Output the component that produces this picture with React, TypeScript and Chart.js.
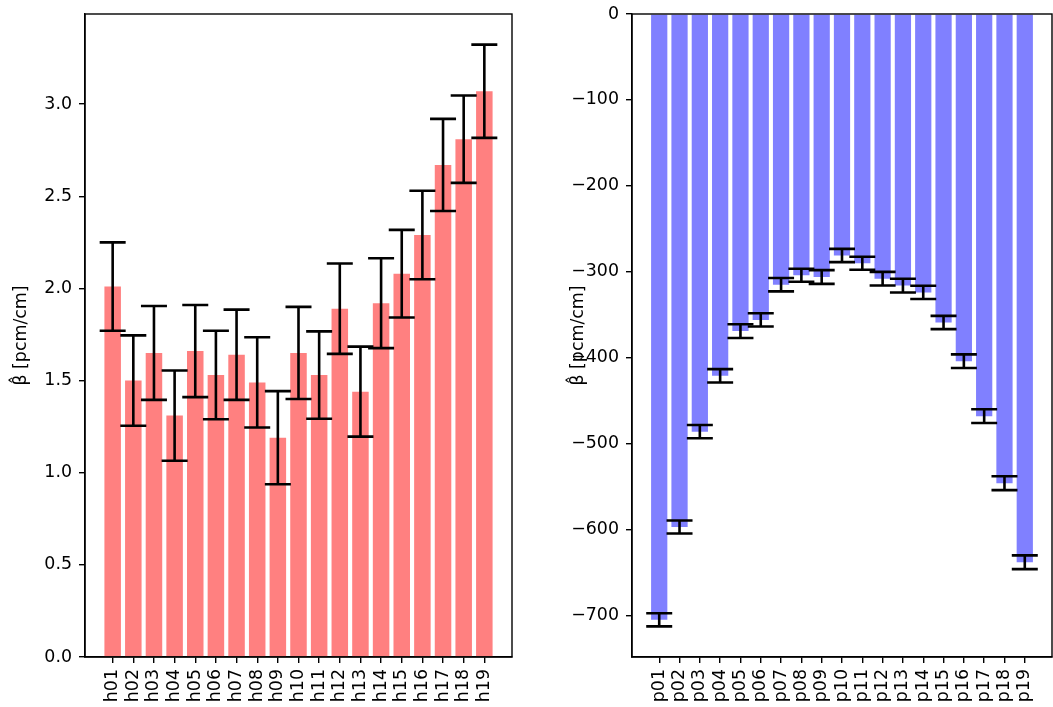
import React, { useEffect, useRef } from "react";
import { Chart, registerables } from "chart.js";

Chart.register(...registerables);

const leftCategories = ["h01","h02","h03","h04","h05","h06","h07","h08","h09","h10","h11","h12","h13","h14","h15","h16","h17","h18","h19"];
const leftValues = [2.01, 1.50, 1.65, 1.31, 1.66, 1.53, 1.64, 1.49, 1.19, 1.65, 1.53, 1.89, 1.44, 1.92, 2.08, 2.29, 2.67, 2.81, 3.07];
const leftErrors = [0.24, 0.245, 0.255, 0.245, 0.25, 0.24, 0.245, 0.245, 0.253, 0.25, 0.237, 0.245, 0.244, 0.244, 0.238, 0.24, 0.25, 0.237, 0.253];
const leftTicks = [0, 0.5, 1.0, 1.5, 2.0, 2.5, 3.0];

const rightCategories = ["p01","p02","p03","p04","p05","p06","p07","p08","p09","p10","p11","p12","p13","p14","p15","p16","p17","p18","p19"];
const rightValues = [-705, -597, -486, -421, -369, -356, -315, -304, -306, -281, -290, -308, -316, -324, -359, -404, -468, -546, -638];
const rightErrors = [7.6, 7.6, 7.7, 7.8, 8, 7.7, 7.8, 7.6, 8, 7.7, 7.6, 7.9, 8, 7.7, 7.7, 7.9, 8, 8.1, 8];
const rightTicks = [0, -100, -200, -300, -400, -500, -600, -700];

const yLabel = "\u03B2\u0302 [pcm/cm]";
const FONT = "DejaVu Sans";
const FS = 17.4;

type PanelProps = {
  categories: string[];
  values: number[];
  errors: number[];
  ticks: number[];
  color: string;
  yMin: number;
  yMax: number;
  fmt: (v: number) => string;
  width: number;
  axisWidth: number;
  rightPad: number;
  titlePad: number;
  left: number;
};

const errorBarPlugin = (values: number[], errors: number[]) => ({
  id: "errbars",
  afterDatasetsDraw(chart: any) {
    const ctx = chart.ctx;
    const xs = chart.scales.x;
    const ys = chart.scales.y;
    ctx.save();
    ctx.strokeStyle = "#000";
    ctx.lineWidth = 2.6;
    values.forEach((v, i) => {
      const x = xs.getPixelForValue(i);
      const yt = ys.getPixelForValue(v + errors[i]);
      const yb = ys.getPixelForValue(v - errors[i]);
      ctx.beginPath();
      ctx.moveTo(x, yt);
      ctx.lineTo(x, yb);
      ctx.moveTo(x - 13, yt);
      ctx.lineTo(x + 13, yt);
      ctx.moveTo(x - 13, yb);
      ctx.lineTo(x + 13, yb);
      ctx.stroke();
    });
    ctx.restore();
    const a = chart.chartArea;
    ctx.save();
    ctx.strokeStyle = "#000";
    ctx.lineWidth = 1.4;
    ctx.strokeRect(a.left, a.top, a.right - a.left, a.bottom - a.top);
    ctx.restore();
  },
});

function Panel(p: PanelProps) {
  const ref = useRef<HTMLCanvasElement>(null);
  useEffect(() => {
    const n = p.categories.length;
    const span = (n - 1) + 0.8;
    const xMin = -0.4 - 0.05 * span;
    const xMax = n - 1 + 0.4 + 0.05 * span;
    const chart = new Chart(ref.current!, {
      type: "bar",
      data: {
        datasets: [
          {
            data: p.values.map((v, i) => ({ x: i, y: v })),
            backgroundColor: p.color,
            borderWidth: 0,
            barPercentage: 0.8,
            categoryPercentage: 1,
          },
        ],
      },
      plugins: [errorBarPlugin(p.values, p.errors)],
      options: {
        responsive: false,
        animation: false,
        devicePixelRatio: 1,
        layout: { padding: { top: 14, left: 0, right: p.rightPad, bottom: 0 } },
        plugins: { legend: { display: false }, tooltip: { enabled: false } },
        scales: {
          x: {
            type: "linear",
            min: xMin,
            max: xMax,
            offset: false,
            grid: { display: true, offset: false, drawOnChartArea: false, drawTicks: true, tickLength: 6, color: "#000", lineWidth: 1.4 },
            border: { display: true, color: "#000", width: 1.4 },
            ticks: {
              autoSkip: false,
              maxRotation: 90,
              minRotation: 90,
              padding: 6,
              color: "#000",
              font: { family: FONT, size: FS },
              callback: (v: any) => p.categories[Math.round(Number(v))] ?? "",
            },
            afterBuildTicks: (s: any) => {
              s.ticks = p.categories.map((_, i) => ({ value: i }));
            },
            afterFit: (s: any) => {
              s.height = 50;
              s.paddingLeft = 0;
              s.paddingRight = 0;
              s.paddingTop = 0;
              s.paddingBottom = 0;
            },
          },
          y: {
            type: "linear",
            min: p.yMin,
            max: p.yMax,
            grid: { display: true, drawOnChartArea: false, drawTicks: true, tickLength: 6, color: "#000", lineWidth: 1.4 },
            border: { display: true, color: "#000", width: 1.4 },
            ticks: {
              padding: 7,
              color: "#000",
              font: { family: FONT, size: FS },
              callback: (v: any) => p.fmt(Number(v)),
            },
            afterBuildTicks: (s: any) => {
              s.ticks = p.ticks.map((t) => ({ value: t }));
            },
            afterFit: (s: any) => {
              s.width = p.axisWidth;
              s.paddingTop = 0;
              s.paddingBottom = 0;
              s.paddingLeft = 0;
              s.paddingRight = 0;
            },
            title: {
              display: true,
              text: yLabel,
              color: "#000",
              font: { family: FONT, size: FS },
              padding: { top: p.titlePad, bottom: 0 },
            },
          },
        },
      },
    } as any);
    return () => chart.destroy();
  }, []);
  return (
    <canvas
      ref={ref}
      width={p.width}
      height={707}
      style={{ position: "absolute", left: p.left, top: 0, width: p.width, height: 707 }}
    />
  );
}

export default function App() {
  const lMax = Math.max(...leftValues.map((v, i) => v + leftErrors[i])) * 1.05;
  const rMin = Math.min(...rightValues.map((v, i) => v - rightErrors[i])) * 1.05;
  return (
    <div style={{ position: "fixed", left: 0, top: 0, width: 1053, height: 707, background: "#fff" }}>
      <Panel
        categories={leftCategories}
        values={leftValues}
        errors={leftErrors}
        ticks={leftTicks}
        color="#ff8080"
        yMin={0}
        yMax={lMax}
        fmt={(v) => v.toFixed(1)}
        width={527}
        axisWidth={85}
        rightPad={15}
        titlePad={11}
        left={0}
      />
      <Panel
        categories={rightCategories}
        values={rightValues}
        errors={rightErrors}
        ticks={rightTicks}
        color="#8080ff"
        yMin={rMin}
        yMax={0}
        fmt={(v) => String(Math.round(v)).replace("-", "\u2212")}
        width={526}
        axisWidth={105}
        rightPad={1}
        titlePad={41.5}
        left={527}
      />
    </div>
  );
}
